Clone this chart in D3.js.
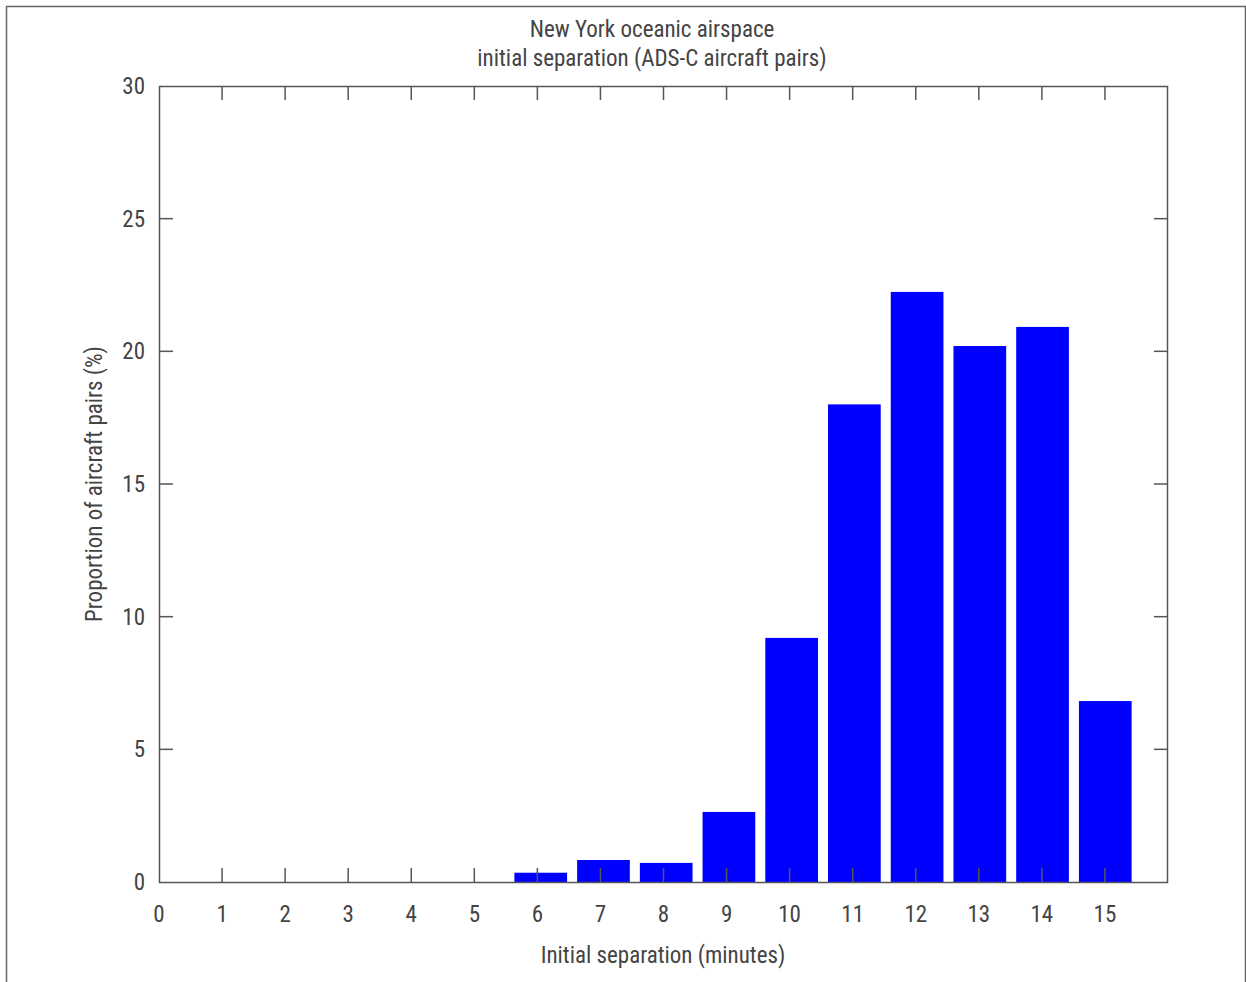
<!DOCTYPE html>
<html>
<head>
<meta charset="utf-8">
<script src="https://cdn.jsdelivr.net/npm/d3@7"></script>
<style>
body { margin: 0; background: #fff; }
text { font-family: "Liberation Sans Narrow", "Roboto Condensed", "Roboto", sans-serif; fill: #444; }
</style>
</head>
<body>
<div id="root"></div>
<script>
const minutes = [6, 7, 8, 9, 10, 11, 12, 13, 14, 15]
const proportion = [0.35, 0.83, 0.72, 2.64, 9.2, 18.0, 22.24, 20.2, 20.92, 6.82]
const xTicks = d3.range(0, 16)
const yTicks = [0, 5, 10, 15, 20, 25, 30]

const C = {
	width: 1246,
	height: 982,
	left: 159,
	right: 1168,
	top: 86,
	bottom: 882,
	tick: 14,
	axisColor: '#555',
	fontSize: 23
}

const svg = d3.select('#root').append('svg')
	.attr('width', C.width)
	.attr('height', C.height)

// outer frame (no bottom edge)
svg.append('path')
	.attr('d', `M6.5,${C.height} V6.5 H1245.5 V${C.height}`)
	.attr('fill', 'none')
	.attr('stroke', '#666')
	.attr('stroke-width', 1.5)

const x = d3.scaleLinear().domain([0, 16]).range([C.left, C.right])
// bars sit on a slightly shifted grid in the original
const xBar = d3.scaleLinear().domain([0, 16]).range([C.left + 5.4, C.right])
const y = d3.scaleLinear().domain([0, 30]).range([C.bottom, C.top])

const data = minutes.map((m, i) => ({ m: m, v: proportion[i] }))
const barW = (xBar(1) - xBar(0)) * 0.84

svg.selectAll('.bar')
	.data(data)
	.enter()
	.append('rect')
	.attr('class', 'bar')
	.attr('x', d => xBar(d.m) - barW / 2)
	.attr('y', d => y(d.v))
	.attr('width', barW)
	.attr('height', d => y(0) - y(d.v))
	.attr('fill', '#0000ff')

// box
svg.append('rect')
	.attr('x', C.left + 0.5)
	.attr('y', C.top + 0.5)
	.attr('width', C.right - C.left - 1)
	.attr('height', C.bottom - C.top)
	.attr('fill', 'none')
	.attr('stroke', C.axisColor)
	.attr('stroke-width', 1.5)

// inward ticks on all sides
const ticks = svg.append('g').attr('stroke', C.axisColor).attr('stroke-width', 1.5)
xTicks.filter(d => d > 0).forEach(d => {
	ticks.append('line').attr('x1', x(d)).attr('x2', x(d)).attr('y1', C.bottom).attr('y2', C.bottom - C.tick)
	ticks.append('line').attr('x1', x(d)).attr('x2', x(d)).attr('y1', C.top).attr('y2', C.top + C.tick)
})
yTicks.filter(d => d > 0 && d < 30).forEach(d => {
	ticks.append('line').attr('x1', C.left).attr('x2', C.left + C.tick).attr('y1', y(d)).attr('y2', y(d))
	ticks.append('line').attr('x1', C.right).attr('x2', C.right - C.tick).attr('y1', y(d)).attr('y2', y(d))
})

// tick labels
svg.selectAll('.xlab')
	.data(xTicks)
	.enter()
	.append('text')
	.attr('x', d => x(d))
	.attr('y', 922)
	.attr('text-anchor', 'middle')
	.style('font-size', C.fontSize + 'px')
	.text(d => d)

svg.selectAll('.ylab')
	.data(yTicks)
	.enter()
	.append('text')
	.attr('x', 145)
	.attr('y', d => y(d) + 8)
	.attr('text-anchor', 'end')
	.style('font-size', C.fontSize + 'px')
	.text(d => d)

// titles
svg.append('text')
	.attr('x', 652).attr('y', 37)
	.attr('text-anchor', 'middle')
	.style('font-size', C.fontSize + 'px')
	.text('New York oceanic airspace')
svg.append('text')
	.attr('x', 652).attr('y', 66)
	.attr('text-anchor', 'middle')
	.style('font-size', C.fontSize + 'px')
	.text('initial separation (ADS-C aircraft pairs)')

svg.append('text')
	.attr('x', 663).attr('y', 963)
	.attr('text-anchor', 'middle')
	.style('font-size', C.fontSize + 'px')
	.text('Initial separation (minutes)')

svg.append('text')
	.attr('transform', 'translate(102,484) rotate(-90)')
	.attr('text-anchor', 'middle')
	.style('font-size', C.fontSize + 'px')
	.text('Proportion of aircraft pairs (%)')
</script>
</body>
</html>
